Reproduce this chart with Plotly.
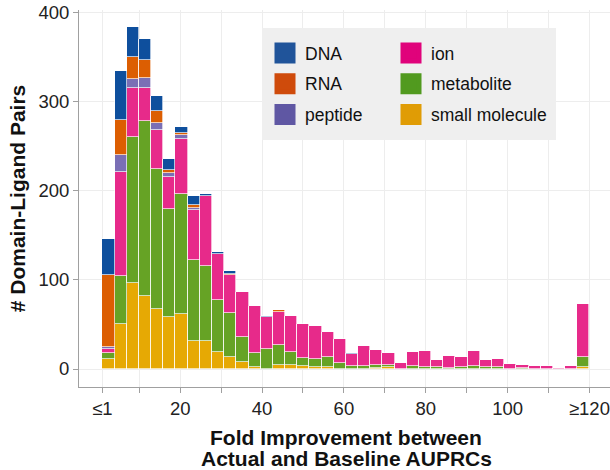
import numpy as np
import plotly.graph_objects as go

# ---------------- data ----------------
bin_min = 1
bin_max = 120
n_bins = 40

tick_values = [1, 10, 20, 30, 40, 50, 60, 70, 80, 90, 100, 110, 120]
tick_labels = ["≤1", "", "20", "", "40", "", "60", "", "80", "", "100", "", "≥120"]
y_ticks = [0, 100, 200, 300, 400]
x_title_lines = ["Fold Improvement between", "Actual and Baseline AUPRCs"]

small_molecule = [11, 50, 96, 82, 67, 58, 62, 32, 32, 19,
                  13, 8, 2, 0, 5, 4, 3, 2, 2, 0,
                  0, 0, 1, 2, 0, 0, 0, 0, 0, 0,
                  0, 0, 0, 0, 0, 0, 0, 0, 0, 2]
metabolite = [7, 54, 165, 196, 158, 122, 135, 90, 84, 59,
              50, 28, 16, 22, 22, 15, 9, 9, 11, 7,
              3, 3, 3, 3, 0, 3, 2, 2, 1, 2,
              3, 2, 2, 0, 1, 0, 0, 0, 0, 11]
ion = [4, 117, 54, 37, 43, 36, 61, 56, 78, 51,
       42, 50, 53, 36, 37, 41, 39, 37, 28, 27,
       14, 23, 17, 13, 7, 16, 18, 8, 14, 11,
       17, 8, 9, 6, 3, 3, 3, 1, 3, 60]
peptide = [3, 19, 11, 12, 8, 4, 5, 3, 0, 0,
           0, 0, 0, 0, 0, 0, 0, 0, 0, 0,
           0, 0, 0, 0, 0, 0, 0, 0, 0, 0,
           0, 0, 0, 0, 0, 0, 0, 0, 0, 0]
RNA = [80, 40, 24, 20, 14, 3, 2, 3, 0, 0,
       2, 0, 0, 0, 2, 0, 0, 0, 0, 0,
       0, 0, 0, 0, 0, 0, 0, 0, 0, 0,
       0, 0, 0, 0, 0, 0, 0, 0, 0, 0]
DNA = [41, 55, 34, 24, 16, 13, 7, 10, 2, 2,
       3, 0, 0, 1, 0, 0, 0, 0, 0, 0,
       1, 0, 0, 0, 0, 0, 0, 0, 0, 0,
       0, 0, 0, 0, 0, 0, 0, 0, 0, 0]

# stacking order bottom -> top
series = [
    ("small molecule", small_molecule, "#E6A904", "#E09C05"),
    ("metabolite", metabolite, "#66A325", "#519A1F"),
    ("ion", ion, "#E72A8A", "#E0037B"),
    ("peptide", peptide, "#7A6FB5", "#5F57A3"),
    ("RNA", RNA, "#DC5E02", "#CF4B0B"),
    ("DNA", DNA, "#0E4F9D", "#20549A"),
]
legend_cols = {"DNA": "legend", "RNA": "legend", "peptide": "legend",
               "ion": "legend2", "metabolite": "legend2", "small molecule": "legend2"}
legend_rank = {"DNA": 1, "RNA": 2, "peptide": 3, "ion": 1, "metabolite": 2, "small molecule": 3}

# ---------------- layout helpers ----------------
W, H = 610, 470
ML, MR, MT, MB = 79, 0, 10, 83
PW, PH = W - ML - MR, H - MT - MB


def px2x(px):
    return (px - ML) / PW


def py2y(py):
    return (H - MB - py) / PH


bw = (bin_max - bin_min) / n_bins
centers = bin_min + bw * (np.arange(n_bins) + 0.5)

FONT = "Liberation Sans, Arial, Helvetica, sans-serif"

fig = go.Figure()
for name, vals, col, lcol in series:
    fig.add_trace(go.Bar(
        x=centers, y=[v if v > 0 else None for v in vals], width=bw,
        name=name, showlegend=False,
        marker=dict(color=col, line=dict(color="rgba(255,255,255,0.75)", width=0.9)),
    ))

for name, vals, col, lcol in series:
    fig.add_trace(go.Scatter(
        x=[None], y=[None], mode="markers", name=name,
        legend=legend_cols[name], legendgroup=name, legendrank=legend_rank[name],
        marker=dict(symbol="square", size=16, color=lcol, line=dict(color=lcol, width=5)),
    ))

fig.add_shape(type="rect", xref="paper", yref="paper",
              x0=px2x(262), x1=px2x(556), y0=py2y(140), y1=py2y(28),
              fillcolor="#EFEFEF", line=dict(width=0), layer="above")

for line_text, line_py in zip(x_title_lines, [437, 459]):
    fig.add_annotation(text=line_text, xref="paper", yref="paper",
                       x=px2x(346), y=py2y(line_py), xanchor="center", yanchor="middle",
                       showarrow=False,
                       font=dict(family=FONT, size=21, weight="bold", color="#111111"))

axis_common = dict(
    showline=True, linecolor="#A0A0A0", linewidth=1,
    ticks="outside", ticklen=5, tickcolor="#A0A0A0", tickwidth=1,
    showgrid=True, gridcolor="#EDEDED", gridwidth=1, zeroline=False,
    automargin=False, ticklabeloverflow="allow",
    tickfont=dict(family=FONT, size=18.5, color="#222222"),
)

fig.update_layout(
    width=W, height=H,
    margin=dict(l=ML, r=MR, t=MT, b=MB),
    paper_bgcolor="white", plot_bgcolor="white",
    barmode="stack", bargap=0,
    font=dict(family=FONT, color="#111111"),
    xaxis=dict(range=[-4.72, 125.03], tickvals=tick_values, ticktext=tick_labels,
               **axis_common),
    yaxis=dict(range=[-20.2, 403], tickvals=y_ticks,
               title=dict(text="# Domain-Ligand Pairs",
                          font=dict(family=FONT, size=21, weight="bold", color="#111111"),
                          standoff=7),
               **axis_common),
    legend=dict(x=px2x(265), y=py2y(35), xanchor="left", yanchor="top",
                bgcolor="rgba(0,0,0,0)", tracegroupgap=5,
                font=dict(family=FONT, size=17.5, color="#111111")),
    legend2=dict(x=px2x(391), y=py2y(35), xanchor="left", yanchor="top",
                 bgcolor="rgba(0,0,0,0)", tracegroupgap=5,
                 font=dict(family=FONT, size=17.5, color="#111111")),
)

fig.write_html("out.html")
